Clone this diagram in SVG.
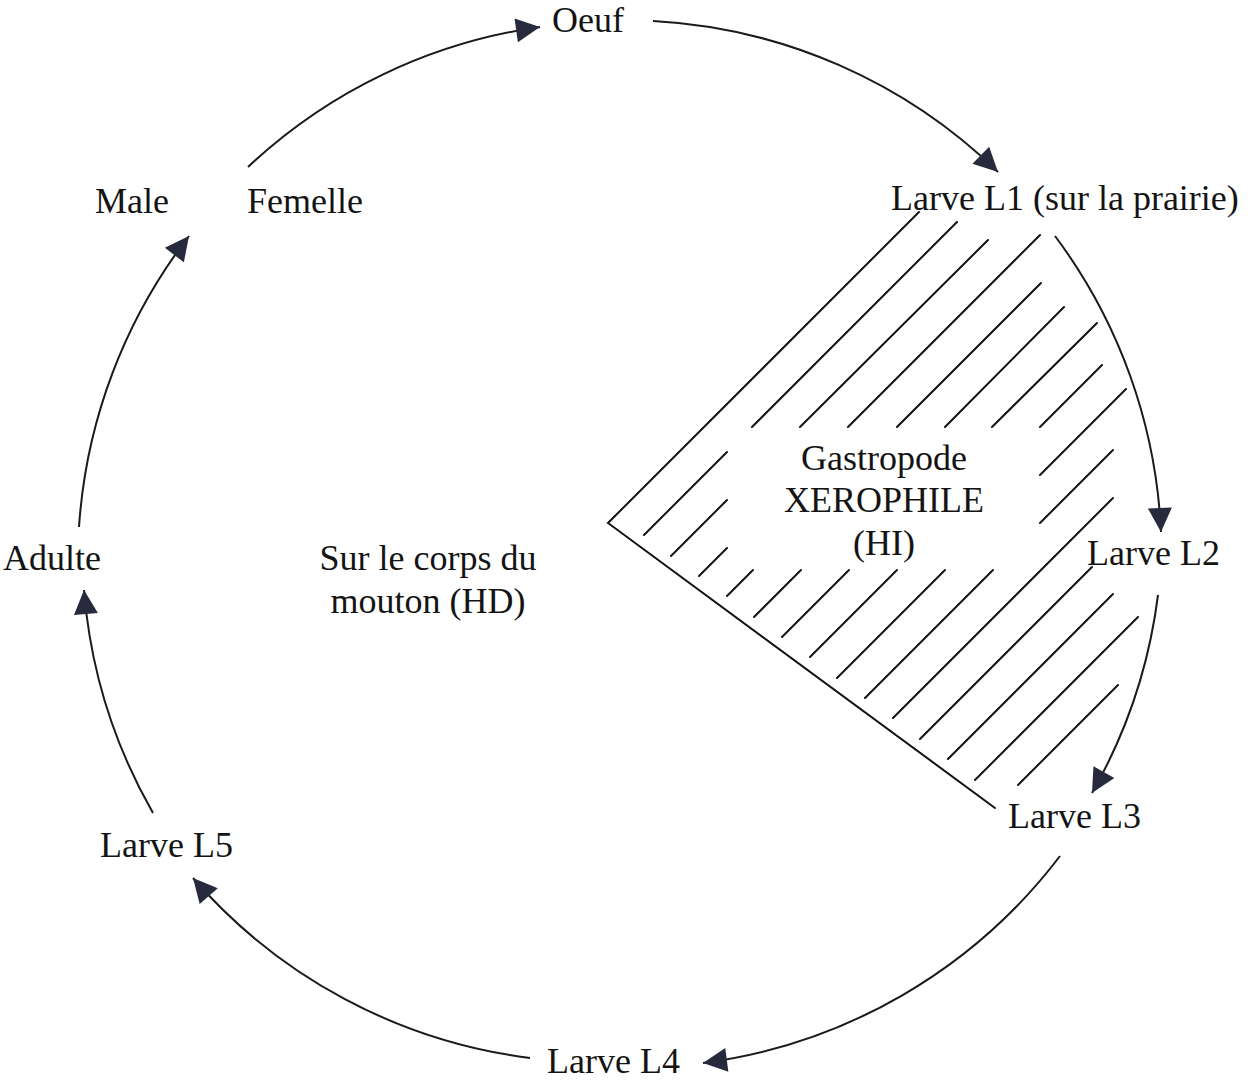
<svg xmlns="http://www.w3.org/2000/svg" width="1254" height="1083" viewBox="0 0 1254 1083">
<style>
.lbl{font-family:"Liberation Serif","Times New Roman",serif;font-size:36px;fill:#141414}
.mid{text-anchor:middle}
.arc{fill:none;stroke:#1a1a1a;stroke-width:2;marker-end:url(#ah)}
.h{stroke:#111;stroke-width:2;fill:none;stroke-linecap:round}
</style>
<defs>
<marker id="ah" markerUnits="userSpaceOnUse" markerWidth="26" markerHeight="26" refX="24" refY="12" orient="auto" overflow="visible">
<path d="M0,0 L24,12 L0,24 z" fill="#262a3c"/>
</marker>
</defs>
<rect width="1254" height="1083" fill="#fff"/>
<g id="hatch-zone">
<path class="h" d="M919,212 L608,523 L995,808"/>
<path class="h" d="M957,222 L752,427 M727,452 L644,535"/>
<path class="h" d="M988,240 L800,427 M727,500 L671,556"/>
<path class="h" d="M1040,235 L848,427 M727,548 L699,576"/>
<path class="h" d="M1041,283 L897,427 M753,570 L727,596"/>
<path class="h" d="M1064,307 L945,427 M801,570 L754,617"/>
<path class="h" d="M1097,323 L992,427 M849,570 L782,637"/>
<path class="h" d="M1102,365 L1040,427 M897,570 L810,657"/>
<path class="h" d="M1126,389 L1040,475 M945,570 L837,678"/>
<path class="h" d="M1113,450 L1040,523 M993,570 L865,698"/>
<path class="h" d="M1113,498 L893,718"/>
<path class="h" d="M1092,567 L920,739"/>
<path class="h" d="M1113,594 L948,759"/>
<path class="h" d="M1138,617 L975,780"/>
<path class="h" d="M1118,685 L1018,785"/>
</g>
<g id="connectors">
<path class="arc" d="M248,167 A535,535 0 0 1 540,27"/>
<path class="arc" d="M653,21 A535,535 0 0 1 998,172"/>
<path class="arc" d="M1055,236 A535,535 0 0 1 1161,532"/>
<path class="arc" d="M1158,595 A535,535 0 0 1 1092,793"/>
<path class="arc" d="M1060,856 A535,535 0 0 1 703,1063"/>
<path class="arc" d="M530,1058 A535,535 0 0 1 193,878"/>
<path class="arc" d="M153,813 A535,535 0 0 1 84,590"/>
<path class="arc" d="M79,527 A535,535 0 0 1 189,236"/>
</g>
<g id="oeuf"><text class="lbl" x="552" y="32">Oeuf</text></g>
<g id="male"><text class="lbl" x="95" y="213">Male</text></g>
<g id="femelle"><text class="lbl" x="247" y="213">Femelle</text></g>
<g id="larve-l1"><text class="lbl" x="891" y="210">Larve L1 (sur la prairie)</text></g>
<g id="gastropode">
<text class="lbl mid" x="884" y="470">Gastropode</text>
<text class="lbl mid" x="884" y="512">XEROPHILE</text>
<text class="lbl mid" x="884" y="555">(HI)</text>
</g>
<g id="mouton">
<text class="lbl mid" x="428" y="570">Sur le corps du</text>
<text class="lbl mid" x="428" y="613">mouton (HD)</text>
</g>
<g id="adulte"><text class="lbl" x="3" y="570">Adulte</text></g>
<g id="larve-l2"><text class="lbl" x="1087" y="565">Larve L2</text></g>
<g id="larve-l3"><text class="lbl" x="1008" y="828">Larve L3</text></g>
<g id="larve-l4"><text class="lbl" x="547" y="1073">Larve L4</text></g>
<g id="larve-l5"><text class="lbl" x="100" y="857">Larve L5</text></g>
</svg>
